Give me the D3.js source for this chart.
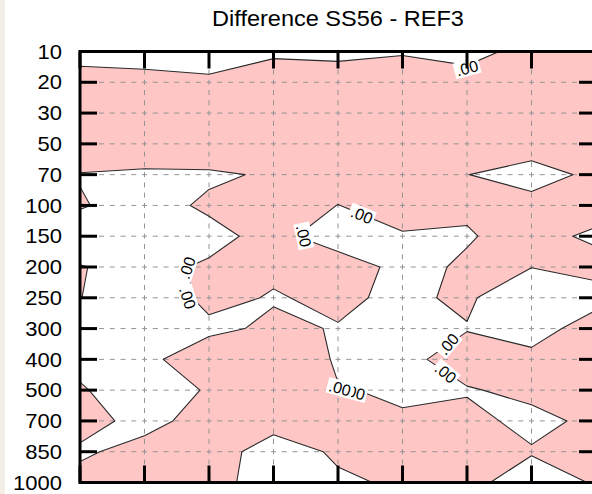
<!DOCTYPE html>
<html>
<head>
<meta charset="utf-8">
<script src="https://cdn.jsdelivr.net/npm/d3@7"></script>
<style>
  html, body { margin: 0; padding: 0; background: #fff; }
  svg { display: block; }
</style>
</head>
<body>
<svg id="chart" width="592" height="494"></svg>
<script>
// Pressure levels (hPa), top to bottom
const levels = ["10", "20", "30", "50", "70", "100", "150", "200", "250", "300", "400", "500", "700", "850", "1000"];
// Horizontal positions of the field (tick positions, unlabelled)
const columns = [0, 1, 2, 3, 4, 5, 6, 7, 8];

// Difference field SS56 - REF3, one array per pressure level
const p10   = [-0.83, -1.10, -1.71, -0.30, -0.52, -0.19, -0.82, 0.82, 0.90];
const p20   = [0.90, 0.80, 0.60, 1.00, 1.10, 1.30, 1.00, 1.20, 1.10];
const p30   = [1.30, 1.20, 1.00, 1.40, 1.60, 1.70, 1.50, 1.10, 1.20];
const p50   = [0.97, 1.10, 1.00, 1.50, 1.60, 1.80, 1.30, 0.306, 1.00];
const p70   = [-0.062, -0.258, -0.191, 0.15, 0.70, 0.90, 0.01, -0.25, 0.14];
const p100  = [0.097, -0.507, 0.207, 0.80, -0.02, 0.50, 0.203, 0.205, 0.734];
const p150  = [-0.646, -0.60, -0.384, 0.433, -0.769, -0.095, -0.109, 0.533, -0.30];
const p200  = [0.049, -0.356, 0.165, 0.147, 0.769, -0.414, 0.186, 0.02, 0.609];
const p250  = [0.02, -0.643, 0.226, -0.06, 0.171, -0.193, 0.171, -0.90, -0.744];
const p300  = [-0.312, -0.50, -0.183, 0.144, -0.043, -0.35, -0.051, -0.975, 1.10];
const p400  = [-0.185, -0.213, 0.521, 0.733, -0.10, -0.281, 0.459, 0.623, 0.90];
const p500  = [0.065, -0.40, 0.065, 0.50, 0.035, -0.078, -0.069, 0.21, 0.60];
const p700  = [0.411, -0.35, 0.445, 0.164, 0.30, 0.059, 0.23, -0.23, 0.188];
const p850  = [-0.168, 0.38, 0.208, -0.20, 0.06, 0.20, 0.40, 0.069, 0.30];
const p1000 = [0.357, 0.50, 0.30, -0.40, -0.06, 0.053, 0.259, -0.46, 0.075];

const contourLevels = [0];
const contourLabel = ".00";

// Zero-line labels: position in field coordinates (column, level index) and angle
const labelCol = [6.0, 3.47, 4.37, 1.66, 1.67, 5.71, 5.67, 4.25, 4.03];
const labelRow = [0.54, 5.99, 5.31, 7.03, 8.0, 9.5, 10.44, 11.06, 10.93];
const labelRot = [-15, 78, 22, -72, 72, -50, 40, 15, 15];

const title = "Difference SS56 - REF3";

// ---------------------------------------------------------------
const rows = [p10, p20, p30, p50, p70, p100, p150, p200, p250, p300, p400, p500, p700, p850, p1000];
const nx = columns.length, ny = levels.length;
const plotL = 80, plotR = 596, plotT = 51.5, plotB = 482.5;

const svg = d3.select("#chart");
const font = "'Liberation Sans', Arial, Helvetica, sans-serif";

const x = d3.scaleLinear().domain([0, nx - 1]).range([plotL, plotR]);
const yIdx = d3.scaleLinear().domain([0, ny - 1]).range([plotT, plotB]);
const y = d3.scalePoint().domain(levels).range([plotT, plotB]);

// page edge strip
svg.append("rect").attr("x", 0).attr("y", 0).attr("width", 5).attr("height", 494).attr("fill", "#f3efe6");

svg.append("defs").append("clipPath").attr("id", "plotClip")
  .append("rect").attr("x", plotL).attr("y", plotT)
  .attr("width", plotR - plotL).attr("height", plotB - plotT);

const plot = svg.append("g").attr("clip-path", "url(#plotClip)");

// contour geometry: grid sample i sits at i + 0.5 in d3.contours space
const contours = d3.contours().size([nx, ny]).thresholds(contourLevels)(rows.flat());
const proj = d3.geoTransform({
  point: function (px, py) { this.stream.point(x(px - 0.5), yIdx(py - 0.5)); }
});
const path = d3.geoPath(proj);

plot.selectAll("path.fill").data(contours).join("path")
  .attr("class", "fill")
  .attr("d", path)
  .attr("fill", "#ffc6c6")
  .attr("stroke", "none");

// dashed grid
const colStep = x(1) - x(0), rowStep = yIdx(1) - yIdx(0);
plot.append("g").selectAll("line").data(levels).join("line")
  .attr("x1", plotL).attr("x2", plotR)
  .attr("y1", d => y(d)).attr("y2", d => y(d))
  .attr("stroke", "#949494").attr("stroke-width", 1)
  .attr("stroke-dasharray", `5 ${colStep / 6 - 5}`)
  .attr("stroke-dashoffset", 2.5);
plot.append("g").selectAll("line").data(columns).join("line")
  .attr("x1", d => x(d)).attr("x2", d => x(d))
  .attr("y1", plotT).attr("y2", plotB)
  .attr("stroke", "#949494").attr("stroke-width", 1)
  .attr("stroke-dasharray", `5 ${rowStep / 3 - 5}`)
  .attr("stroke-dashoffset", 2.5);

// zero contour line
plot.selectAll("path.line").data(contours).join("path")
  .attr("class", "line")
  .attr("d", path)
  .attr("fill", "none")
  .attr("stroke", "#2a2a2a")
  .attr("stroke-width", 1.1)
  .attr("stroke-linejoin", "round");

// contour labels with white boxes
const lab = plot.append("g").selectAll("g").data(labelCol.map((c, i) => i)).join("g")
  .attr("transform", i => `translate(${x(labelCol[i])},${yIdx(labelRow[i])}) rotate(${labelRot[i]})`);
lab.append("rect")
  .attr("x", -13).attr("y", -8).attr("width", 26).attr("height", 16)
  .attr("fill", "#fff");
lab.append("text")
  .attr("text-anchor", "middle").attr("dy", "0.36em")
  .attr("font-family", font).attr("font-size", 16).attr("fill", "#000")
  .text(contourLabel);

// frame
const frame = svg.append("g").attr("stroke", "#000").attr("stroke-width", 3).attr("fill", "none");
frame.append("rect").attr("x", plotL).attr("y", plotT).attr("width", plotR - plotL).attr("height", plotB - plotT);

// ticks (inward)
const tl = 17;
const ticks = svg.append("g").attr("stroke", "#000").attr("stroke-width", 3);
ticks.selectAll("line.l").data(levels).join("line").attr("class", "l")
  .attr("x1", plotL).attr("x2", plotL + tl).attr("y1", d => y(d)).attr("y2", d => y(d));
ticks.selectAll("line.r").data(levels).join("line").attr("class", "r")
  .attr("x1", plotR - tl).attr("x2", plotR).attr("y1", d => y(d)).attr("y2", d => y(d));
ticks.selectAll("line.t").data(columns).join("line").attr("class", "t")
  .attr("x1", d => x(d)).attr("x2", d => x(d)).attr("y1", plotT).attr("y2", plotT + tl);
ticks.selectAll("line.b").data(columns).join("line").attr("class", "b")
  .attr("x1", d => x(d)).attr("x2", d => x(d)).attr("y1", plotB - tl).attr("y2", plotB);

// y labels
svg.append("g").selectAll("text").data(levels).join("text")
  .attr("transform", d => `translate(62,${y(d)}) scale(1.1,1)`)
  .attr("text-anchor", "end").attr("dy", "0.36em")
  .attr("font-family", font).attr("font-size", 20).attr("fill", "#000")
  .text(d => d);

// title
svg.append("text")
  .attr("transform", `translate(${(plotL + plotR) / 2},26) scale(1.07,1)`)
  .attr("text-anchor", "middle")
  .attr("font-family", font).attr("font-size", 22).attr("fill", "#000")
  .text(title);
</script>
</body>
</html>
